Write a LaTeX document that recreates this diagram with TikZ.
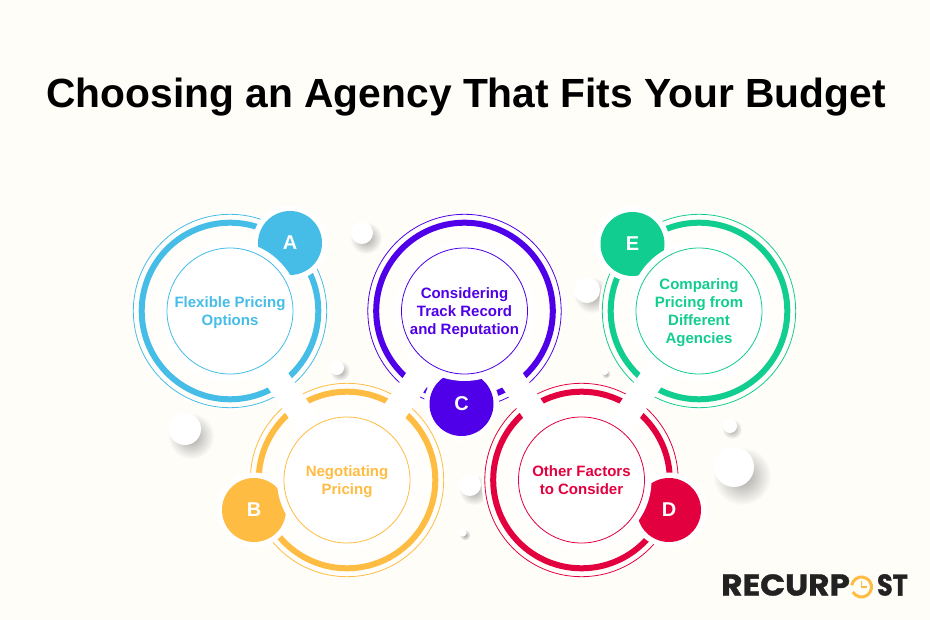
\documentclass[tikz,border=0pt]{standalone}
\usepackage{fontspec}
\setmainfont{Liberation Sans}
\newfontfamily\logofont[BoldFeatures = {FakeBold = 1.2}]{Poppins}
\usetikzlibrary{fadings}
\definecolor{bgcream}{HTML}{FFFDF8}
\definecolor{halocream}{HTML}{FFFEFB}
\definecolor{cblue}{HTML}{45BDE6}
\definecolor{cyellow}{HTML}{FFBC42}
\definecolor{cviolet}{HTML}{5000E8}
\definecolor{cred}{HTML}{E3003F}
\definecolor{cgreen}{HTML}{12CD90}
\definecolor{logoink}{HTML}{222222}
\tikzfading[name=softshade, inner color=transparent!40, outer color=transparent!100]
\tikzset{
    disc/.style = {circle, inner sep = 0, outer sep = 0},
    halo/.style = {disc, fill = halocream, minimum size = 200},
    thinring/.style = {disc, draw = #1, line width = .8, minimum size = 193.4},
    thickring/.style = {disc, draw = #1, line width = 6, minimum size = 176.6},
    link/.style = {white, line width = 25},
    badgehalo/.style = {disc, fill = white, minimum size = 75},
    badge/.style = {disc, fill = #1, minimum size = 64, text = white, font = \fontsize{20}{24}\selectfont\bfseries},
    centerhalo/.style = {disc, fill = white, minimum size = 140},
    centerdisc/.style = {disc, draw = #1, line width = .8, fill = white, minimum size = 126},
    disctext/.style = {inner sep = 0, yshift = -1.8, text = #1, align = center, font = \fontsize{15}{18}\selectfont\bfseries},
    ball/.style = {disc, fill = white, minimum size = #1},
    ballshade/.style = {disc, fill = black!60, path fading = softshade, minimum size = #1},
    faintring/.style = {disc, draw = white, line width = 1, minimum size = #1},
    logotext/.style = {inner sep = 0, text = logoink, font = \logofont\fontsize{30}{34}\selectfont\bfseries}
}
\begin{document}
\begin{tikzpicture}[x = 1pt, y = -1pt]
    \useasboundingbox (0,0) rectangle (930,620);
    \fill[bgcream] (0,0) rectangle (930,620);
    \node (title) at (466,97) {\fontsize{40.75}{48}\selectfont\bfseries Choosing an Agency That Fits Your Budget};
    % faint rings behind
    \node[faintring = 40] (faint1) at (342,233) {};
    \node[faintring = 60] (faint2) at (218,443) {};
    \node[faintring = 54] (faint3) at (467,542) {};
    \node[faintring = 34] (faint4) at (467,453) {};
    \node[faintring = 40] (faint5) at (590,218) {};
    \node[faintring = 32] (faint6) at (577,350) {};
    % shaded balls
    \node[ballshade = 32] (shade1) at (366,238) {};
    \node[ballshade = 36] (shade2) at (592,295) {};
    \node[ballshade = 46] (shade3) at (191,436) {};
    \node[ballshade = 58] (shade4) at (742,476) {};
    \node[ballshade = 30] (shade5) at (474,490) {};
    \node[ballshade = 20] (shade6) at (340,371) {};
    \node[ballshade = 20] (shade7) at (732,429) {};
    \node[ballshade = 11] (shade8) at (465,535) {};
    \node[ballshade = 9] (shade9) at (606,374) {};
    \node[ball = 22] (ball1) at (362,233) {};
    \node[ball = 26] (ball2) at (587,290) {};
    \node[ball = 32] (ball3) at (185,429) {};
    \node[ball = 40] (ball4) at (734,467) {};
    \node[ball = 22] (ball5) at (470,485) {};
    \node[ball = 14] (ball6) at (337,368) {};
    \node[ball = 14] (ball7) at (730,426) {};
    \node[ball = 7] (ball8) at (463,533) {};
    \node[ball = 6] (ball9) at (605,372) {};
    % rings
    \node[halo] (haloA) at (230,311) {};
    \node[halo] (haloB) at (347,480) {};
    \node[halo] (haloC) at (464.5,311) {};
    \node[halo] (haloD) at (581.5,480) {};
    \node[halo] (haloE) at (699,311) {};
    \node[thinring = cblue] (thinA) at (haloA) {};
    \node[thinring = cyellow] (thinB) at (haloB) {};
    \node[thinring = cviolet] (thinC) at (haloC) {};
    \node[thinring = cred] (thinD) at (haloD) {};
    \node[thinring = cgreen] (thinE) at (haloE) {};
    \node[thickring = cblue] (thickA) at (haloA) {};
    \node[thickring = cyellow] (thickB) at (haloB) {};
    \node[thickring = cviolet] (thickC) at (haloC) {};
    \node[thickring = cred] (thickD) at (haloD) {};
    \node[thickring = cgreen] (thickE) at (haloE) {};
    % white bands between neighbours
    \draw[link] (haloA.center) -- (haloB.center);
    \draw[link] (haloB.center) -- (haloC.center);
    \draw[link] (haloC.center) -- (haloD.center);
    \draw[link] (haloD.center) -- (haloE.center);
    % badges
    \node[badgehalo] (holeA) at (290,243) {};
    \node[badgehalo] (holeB) at (254,510) {};
    \node[badgehalo] (holeC) at (461.5,404) {};
    \node[badgehalo] (holeD) at (669,510) {};
    \node[badgehalo] (holeE) at (632.5,244) {};
    \node[badge = cblue] (badgeA) at (holeA) {A};
    \node[badge = cyellow] (badgeB) at (holeB) {B};
    \node[badge = cviolet] (badgeC) at (holeC) {C};
    \node[badge = cred] (badgeD) at (holeD) {D};
    \node[badge = cgreen] (badgeE) at (holeE) {E};
    % centres
    \node[centerhalo] (backA) at (haloA) {};
    \node[centerhalo] (backB) at (haloB) {};
    \node[centerhalo] (backC) at (haloC) {};
    \node[centerhalo] (backD) at (haloD) {};
    \node[centerhalo] (backE) at (haloE) {};
    \node[centerdisc = cblue] (discA) at (haloA) {};
    \node[centerdisc = cyellow] (discB) at (haloB) {};
    \node[centerdisc = cviolet] (discC) at (haloC) {};
    \node[centerdisc = cred] (discD) at (haloD) {};
    \node[centerdisc = cgreen] (discE) at (haloE) {};
    \node[disctext = cblue] (textA) at (discA) {Flexible Pricing\\Options};
    \node[disctext = cyellow] (textB) at (discB) {Negotiating\\Pricing};
    \node[disctext = cviolet] (textC) at (discC) {Considering\\Track Record\\and Reputation};
    \node[disctext = cred, yshift = 2] (textD) at (discD) {Other Factors\\to Consider};
    \node[disctext = cgreen] (textE) at (discE) {Comparing\\Pricing from\\Different\\Agencies};
    % logo
    \node[logotext, anchor = west] (logoL) at (721,585) {\scalebox{1.09}[1]{RECURP}};
    \node[logotext, anchor = east] (logoR) at (908,585) {\scalebox{.85}[1]{ST}};
    \node[disc, minimum size = 20] (logoO) at (861.5,587) {};
    \draw[cyellow, line width = 3, y = 1pt] (logoO.170) arc[start angle = 170, end angle = -150, radius = 10];
    \draw[cyellow, line width = 1.8] (logoO.center) ++(0,-6.5) -- (logoO.center) -- ++(5,0);
\end{tikzpicture}
\end{document}
